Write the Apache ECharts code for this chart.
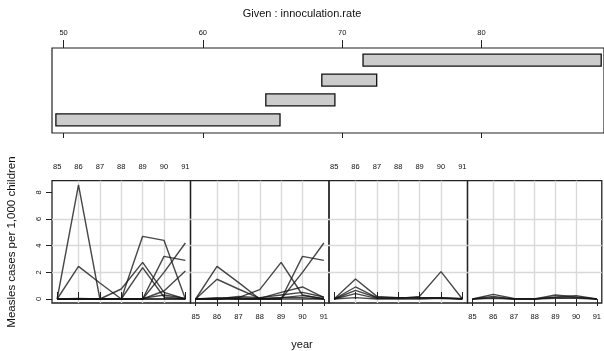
<!DOCTYPE html>
<html><head><meta charset="utf-8">
<script src="https://cdn.jsdelivr.net/npm/echarts@6/dist/echarts.min.js"></script>
<style>html,body{margin:0;padding:0;background:#fff}#c{width:604px;height:351px}</style>
</head><body><div id="c"></div>
<script>
// ---- data ----
const years = [85, 86, 87, 88, 89, 90, 91];
const yTicks = [0, 2, 4, 6, 8];
const givenTicks = [50, 60, 70, 80];
const givenLevel = [1, 2, 3, 4];
const givenLo = [49.45, 64.52, 68.54, 71.5];
const givenHi = [65.54, 69.48, 72.48, 88.6];
const panel1 = [
  [0, 8.55, 0, 0, 0, 0, 0],
  [0, 2.45, 1.2, 0, 0, 0, 0],
  [0, 0, 0, 0, 4.7, 4.4, 0],
  [0, 0, 0, 0.75, 2.75, 0.5, 0],
  [0, 0, 0, 0, 2.35, 0.15, 0],
  [0, 0, 0, 0, 0, 3.2, 2.9],
  [0, 0, 0, 0, 0, 2.0, 4.2],
  [0, 0, 0, 0, 0, 0.6, 2.1],
  [0, 0.05, 0, 0, 0.05, 0.3, 0.05]
];
const panel2 = [
  [0, 2.45, 1.25, 0, 0, 0, 0],
  [0, 1.48, 0.75, 0.05, 0.1, 0.1, 0],
  [0, 0, 0.1, 0.7, 2.75, 0.3, 0],
  [0, 0, 0, 0, 0, 3.2, 2.9],
  [0, 0, 0, 0, 0, 2.0, 4.2],
  [0, 0.05, 0.1, 0.05, 0.5, 0.9, 0.1],
  [0, 0, 0.2, 0.1, 0.3, 0.5, 0.15],
  [0, 0.1, 0, 0, 0.1, 0.25, 0.05]
];
const panel3 = [
  [0, 1.5, 0.2, 0.1, 0.1, 0.1, 0],
  [0, 0.9, 0.1, 0.1, 0.05, 0.05, 0],
  [0, 0.65, 0.1, 0.05, 0.2, 2.05, 0],
  [0, 0.4, 0.05, 0.05, 0.1, 0.1, 0.05],
  [0, 0.1, 0, 0, 0, 0.05, 0]
];
const panel4 = [
  [0, 0.35, 0.05, 0, 0.3, 0.15, 0],
  [0, 0.2, 0, 0, 0.15, 0.25, 0],
  [0, 0.1, 0, 0.02, 0.1, 0.1, 0],
  [0, 0.05, 0, 0, 0.05, 0.05, 0]
];
const panels = [panel1, panel2, panel3, panel4];

// ---- layout ----
const FONT = '"Liberation Sans", Arial, sans-serif';
const P_LEFT = 52, P_W = 138.5, P_TOP = 180.7, P_H = 122.3;
const grids = [{left: 52, top: 48, width: 554, height: 85, show: true, borderColor: '#222', borderWidth: 1.2}];
for (let i = 0; i < 4; i++) {
  grids.push({left: P_LEFT + i * P_W, top: P_TOP, width: P_W, height: P_H, show: true, borderColor: '#222', borderWidth: 1.3});
}
const tickStyle = {color: '#222', width: 1};
const xAxes = [
  {type: 'value', gridIndex: 0, position: 'top', min: 49.17, max: 88.8, minInterval: 10, maxInterval: 10,
   axisLine: {show: false}, splitLine: {show: false},
   axisTick: {show: true, length: 8, lineStyle: tickStyle, customValues: givenTicks},
   axisLabel: {customValues: givenTicks, fontSize: 7.5, color: '#111', margin: 11, fontFamily: FONT}},
  {type: 'value', gridIndex: 0, position: 'bottom', min: 49.17, max: 88.8, minInterval: 10, maxInterval: 10,
   axisLine: {show: false}, splitLine: {show: false},
   axisTick: {show: true, length: 5, lineStyle: tickStyle, customValues: givenTicks},
   axisLabel: {show: false}}
];
const yAxes = [
  {type: 'value', gridIndex: 0, min: 0.34, max: 4.61, show: false}
];
for (let i = 0; i < 4; i++) {
  xAxes.push({type: 'value', gridIndex: i + 1, position: (i % 2 === 0) ? 'top' : 'bottom',
    min: 84.76, max: 91.24, minInterval: 1, maxInterval: 1,
    axisLine: {show: false},
    splitLine: {show: true, showMinLine: false, showMaxLine: false, lineStyle: {color: '#d9d9d9', width: 1.4}},
    axisTick: {show: true, length: 7, lineStyle: tickStyle, customValues: years},
    axisLabel: {customValues: years, fontSize: 7.5, color: '#111', margin: 10, fontFamily: FONT}});
  yAxes.push({type: 'value', gridIndex: i + 1, min: -0.3, max: 8.87, minInterval: 2, maxInterval: 2,
    axisLine: {show: false},
    splitLine: {show: true, showMinLine: false, showMaxLine: false, lineStyle: {color: '#d9d9d9', width: 1.4}},
    axisTick: {show: i === 0, length: 6, lineStyle: tickStyle, customValues: yTicks},
    axisLabel: {show: i === 0, customValues: yTicks, rotate: 90, fontSize: 7.5, color: '#111', margin: 9, fontFamily: FONT}});
}

const series = [{
  type: 'custom', xAxisIndex: 0, yAxisIndex: 0, silent: true,
  data: givenLevel.map((lv, k) => [givenLo[k], givenHi[k], lv]),
  renderItem: function (params, api) {
    const a = api.coord([api.value(0), api.value(2)]);
    const b = api.coord([api.value(1), api.value(2)]);
    return {type: 'rect', shape: {x: a[0], y: a[1] - 6, width: b[0] - a[0], height: 12},
      style: {fill: '#cccccc', stroke: '#111', lineWidth: 1.3}};
  }
}];
panels.forEach((pl, i) => {
  pl.forEach(vals => {
    series.push({type: 'line', xAxisIndex: i + 2, yAxisIndex: i + 1, symbol: 'none', silent: true,
      lineStyle: {color: 'rgba(20,20,20,0.78)', width: 1.4},
      data: years.map((y, k) => [y, vals[k]])});
  });
});

const chart = echarts.init(document.getElementById('c'), null, {renderer: 'canvas'});
chart.setOption({
  animation: false,
  backgroundColor: '#fff',
  grid: grids, xAxis: xAxes, yAxis: yAxes, series: series,
  graphic: [
    {type: 'text', x: 302, y: 14, style: {text: 'Given : innoculation.rate', font: '11px ' + FONT, fill: '#111', align: 'center', verticalAlign: 'middle'}},
    {type: 'text', x: 302, y: 345, style: {text: 'year', font: '11px ' + FONT, fill: '#111', align: 'center', verticalAlign: 'middle'}},
    {type: 'text', x: 12, y: 242, rotation: Math.PI / 2, style: {text: 'Measles cases per 1,000 children', font: '11.5px ' + FONT, fill: '#111', align: 'center', verticalAlign: 'middle'}}
  ]
});
</script></body></html>
